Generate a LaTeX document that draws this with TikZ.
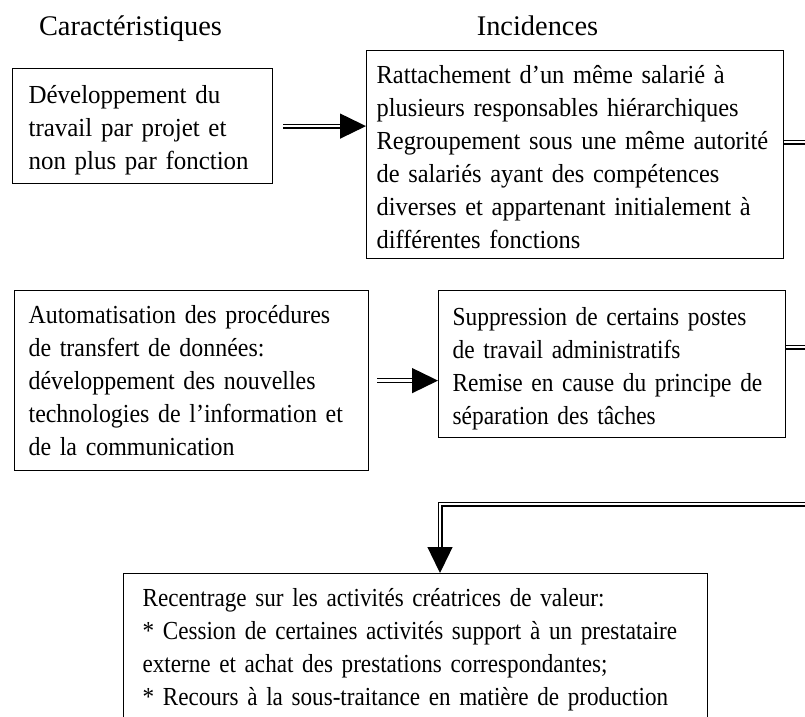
\documentclass[tikz,border=0pt]{standalone}
\usepackage{fontspec}
\setmainfont[WordSpace=0.8]{Liberation Serif}
\usetikzlibrary{arrows.meta}

\begin{document}
\begin{tikzpicture}[x=1pt,y=-1pt,
    boite/.style={draw,rectangle,anchor=north west,align=left,line width=1.2pt,
      inner ysep=0pt,serre=0.96},
    serre/.style={font=\fontsize{26}{33}\selectfont\addfontfeatures{FakeStretch=#1}},
    titre/.style={anchor=base,font=\fontsize{28.4}{34}\selectfont},
    trait/.style={double,double distance=2.4pt,line width=1.3pt},
    fleche/.style={trait,-{Triangle[length=26pt,width=25pt]}}]

\path[use as bounding box,clip] (0,0) rectangle (805,716);

\node[titre] (carac) at (130.5,35) {Caractéristiques};
\node[titre] (incid) at (537.5,35) {Incidences};

\node[boite,inner xsep=16pt,text width=228pt,minimum height=115pt] (dev) at (12,68)
  {\rule{0pt}{27pt}Développement du\\travail par projet et\\non plus par fonction};
\node[boite,serre=0.94,inner xsep=10pt,text width=397pt,minimum height=208pt] (rat) at (366,50)
  {\rule{0pt}{24pt}Rattachement d’un même salarié à\\plusieurs responsables hiérarchiques\\Regroupement sous une même autorité\\de salariés ayant des compétences\\diverses et appartenant initialement à\\différentes fonctions};
\node[boite,serre=0.92,inner xsep=14pt,text width=326pt,minimum height=180pt] (auto) at (14,290)
  {Automatisation des procédures\\de transfert de données:\\développement des nouvelles\\technologies de l’information et\\de la communication};
\node[boite,serre=0.90,inner xsep=14pt,text width=319pt,minimum height=147pt] (sup) at (438,290)
  {\rule{0pt}{28pt}Suppression de certains postes\\de travail administratifs\\Remise en cause du principe de\\séparation des tâches};
\node[boite,serre=0.89,inner xsep=19pt,text width=546pt,minimum height=152pt] (rec) at (123,573)
  {Recentrage sur les activités créatrices de valeur:\\{*} Cession de certaines activités support à un prestataire\\externe et achat des prestations correspondantes;\\{*} Recours à la sous-traitance en matière de production};

% sorties vers la droite
\coordinate (sortie1) at (820,142);
\coordinate (sortie2) at (820,347);
\coordinate (sortie3) at (820,504);
\coordinate (coude) at (440,504);

\path
(dev.east) edge[fleche,shorten <=10pt] (rat.west |- dev.east)
(auto.east) edge[fleche,shorten <=8pt] (sup.west |- auto.east)
(rat.east |- sortie1) edge[trait] (sortie1)
(sup.east |- sortie2) edge[trait] (sortie2);

\draw[fleche] (sortie3) -| (coude |- rec.north);

\end{tikzpicture}
\end{document}
